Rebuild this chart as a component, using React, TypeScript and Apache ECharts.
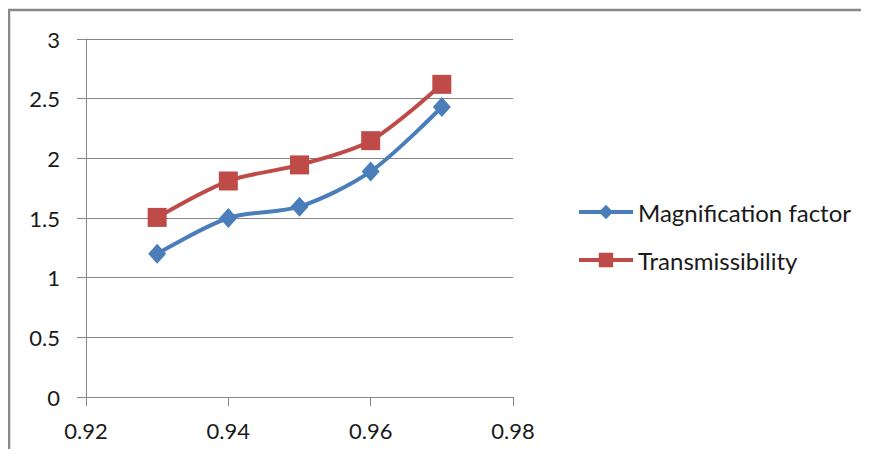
import React, { useEffect, useRef } from "react";
import * as echarts from "echarts";

const xValues = [0.93, 0.94, 0.95, 0.96, 0.97];
const magnification = [1.2, 1.5, 1.595, 1.89, 2.43];
const transmissibility = [1.505, 1.81, 1.945, 2.148, 2.62];
const seriesNames = ["Magnification factor", "Transmissibility"];

export default function App() {
  const ref = useRef<HTMLDivElement>(null);
  useEffect(() => {
    if (!ref.current) return;
    const chart = echarts.init(ref.current, undefined, { renderer: "svg" });
    const font = "Lato, 'Open Sans', sans-serif";
    chart.setOption({
      animation: false,
      backgroundColor: "#ffffff",
      graphic: [
        {
          type: "polyline",
          shape: { points: [[9, 460], [9, 10], [875, 10]] },
          style: { stroke: "#898989", lineWidth: 2.5, fill: "none" },
          silent: true,
        },
      ],
      grid: { left: 86, right: 356, top: 39, bottom: 60, containLabel: false },
      xAxis: {
        type: "value",
        min: 0.92,
        max: 0.98,
        interval: 0.02,
        axisLine: { show: true, lineStyle: { color: "#868686", width: 1 } },
        axisTick: { show: true, length: 9, lineStyle: { color: "#868686" } },
        splitLine: { show: false },
        axisLabel: {
          color: "#1a1a1a",
          fontFamily: font,
          fontSize: 22,
          margin: 22,
          formatter: (v: number) => v.toFixed(2),
        },
      },
      yAxis: {
        type: "value",
        min: 0,
        max: 3,
        interval: 0.5,
        axisLine: { show: true, lineStyle: { color: "#868686", width: 1 } },
        axisTick: { show: true, length: 9, lineStyle: { color: "#868686" } },
        splitLine: { show: true, lineStyle: { color: "#868686", width: 1 } },
        axisLabel: {
          color: "#1a1a1a",
          fontFamily: font,
          fontSize: 22,
          margin: 26,
          formatter: (v: number) => String(v),
        },
      },
      legend: {
        orient: "vertical",
        left: 577,
        top: 200,
        padding: 0,
        itemWidth: 54,
        itemHeight: 18,
        itemGap: 24,
        lineStyle: { width: 4 },
        textStyle: { fontFamily: font, fontSize: 24, color: "#1a1a1a" },
        data: seriesNames,
      },
      series: [
        {
          name: seriesNames[0],
          type: "line",
          smooth: 0.3,
          data: xValues.map((x, i) => [x, magnification[i]]),
          symbol: "diamond",
          symbolSize: [18, 20],
          lineStyle: { color: "#4A7EBB", width: 4 },
          itemStyle: { color: "#4A7EBB" },
          z: 3,
        },
        {
          name: seriesNames[1],
          type: "line",
          smooth: 0.3,
          data: xValues.map((x, i) => [x, transmissibility[i]]),
          symbol: "rect",
          symbolSize: 19,
          lineStyle: { color: "#BE4B48", width: 4 },
          itemStyle: { color: "#BE4B48" },
          z: 2,
        },
      ],
    });
    return () => chart.dispose();
  }, []);
  return <div ref={ref} style={{ width: 869, height: 457, margin: -8 }} />;
}
